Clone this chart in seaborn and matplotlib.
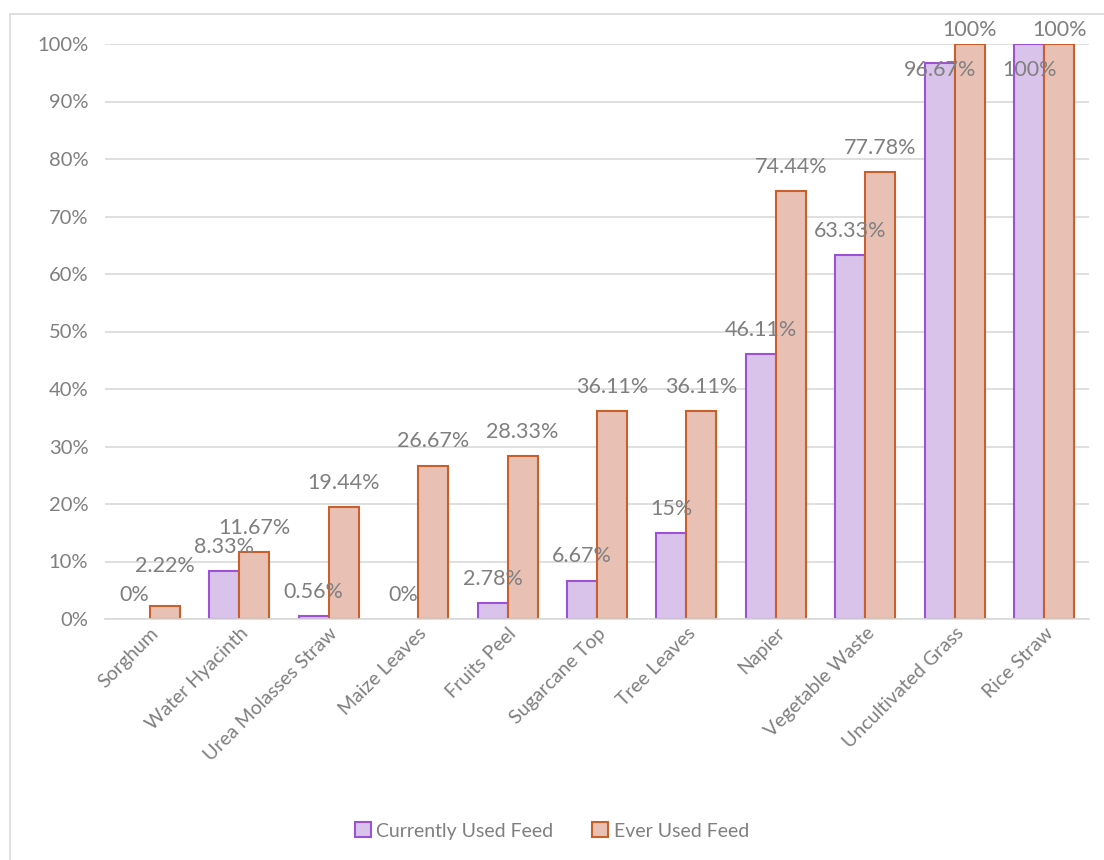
import matplotlib
matplotlib.use("Agg")
import matplotlib.pyplot as plt
import seaborn as sns
import pandas as pd
from matplotlib.patches import Rectangle
from matplotlib.ticker import FuncFormatter

categories = ["Sorghum", "Water Hyacinth", "Urea Molasses Straw", "Maize Leaves",
              "Fruits Peel", "Sugarcane Top", "Tree Leaves", "Napier",
              "Vegetable Waste", "Uncultivated Grass", "Rice Straw"]
currently_used = [0, 8.33, 0.56, 0, 2.78, 6.67, 15, 46.11, 63.33, 96.67, 100]
ever_used = [2.22, 11.67, 19.44, 26.67, 28.33, 36.11, 36.11, 74.44, 77.78, 100, 100]
series_names = ["Currently Used Feed", "Ever Used Feed"]

df = pd.DataFrame({
    "Feed": categories * 2,
    "Series": [series_names[0]] * len(categories) + [series_names[1]] * len(categories),
    "Value": currently_used + ever_used,
})

sns.set_theme(style="white")
plt.rcParams["font.family"] = ["Lato", "DejaVu Sans"]
gray = "#7f7f7f"
fills = ["#d9c3ea", "#e8c1b4"]
edges = ["#9d52d6", "#c95f2b"]

fig = plt.figure(figsize=(11.04, 8.6), dpi=100)
ax = fig.add_axes([105 / 1104, 241 / 860, 984 / 1104, 575 / 860])

sns.barplot(data=df, x="Feed", y="Value", hue="Series", order=categories,
            hue_order=series_names, palette=fills, width=0.67, gap=0,
            ax=ax, legend=False, saturation=1)

for i, cont in enumerate(ax.containers):
    vals = currently_used if i == 0 else ever_used
    for bar, v in zip(cont, vals):
        bar.set_edgecolor(edges[i])
        bar.set_linewidth(1.5 if v > 0 else 0)

ax.set_ylim(0, 100)
ax.set_xlim(-0.5, len(categories) - 0.5)
ax.set_yticks(range(0, 101, 10))
ax.yaxis.set_major_formatter(FuncFormatter(lambda v, p: f"{int(v)}%"))
ax.grid(axis="y", color="#d9d9d9", linewidth=1.2)
ax.set_axisbelow(True)
for s in ["top", "right", "left"]:
    ax.spines[s].set_visible(False)
ax.spines["bottom"].set_color("#d9d9d9")
ax.spines["bottom"].set_linewidth(1.2)
ax.set_xlabel("")
ax.set_ylabel("")
ax.tick_params(axis="y", labelsize=14.5, labelcolor=gray, length=0, pad=12)
ax.tick_params(axis="x", labelsize=14, labelcolor=gray, length=0, pad=4)
plt.setp(ax.get_xticklabels(), rotation=45, ha="right", rotation_mode="anchor")

def fmt(v):
    return f"{v:g}%"

for i, cont in enumerate(ax.containers):
    vals = currently_used if i == 0 else ever_used
    for bar, v in zip(cont, vals):
        x = bar.get_x() + bar.get_width() / 2
        y = v + 4.2
        if i == 0 and v > 90:
            y = 95.5
        elif i == 1:
            y = max(y, 9.2)
            y = min(y, 102.5)
        ax.text(x, y, fmt(v), ha="center", va="center", fontsize=15.5,
                color=gray, clip_on=False)

handles = [Rectangle((0, 0), 1, 1, facecolor=fills[k], edgecolor=edges[k], linewidth=1.5)
           for k in range(2)]
fig.legend(handles, series_names, loc="center", bbox_to_anchor=(0.5, 1 - 831 / 860),
           ncol=2, frameon=False, fontsize=14, labelcolor=gray, handlelength=0.8,
           handleheight=0.8, handletextpad=0.3, columnspacing=2.0)

fig.add_artist(Rectangle((10 / 1104, -0.01), 1.1, 1 - 14 / 860 + 0.01,
                         transform=fig.transFigure, fill=False,
                         edgecolor="#d9d9d9", linewidth=1.2))

fig.savefig("out.png", dpi=100)
